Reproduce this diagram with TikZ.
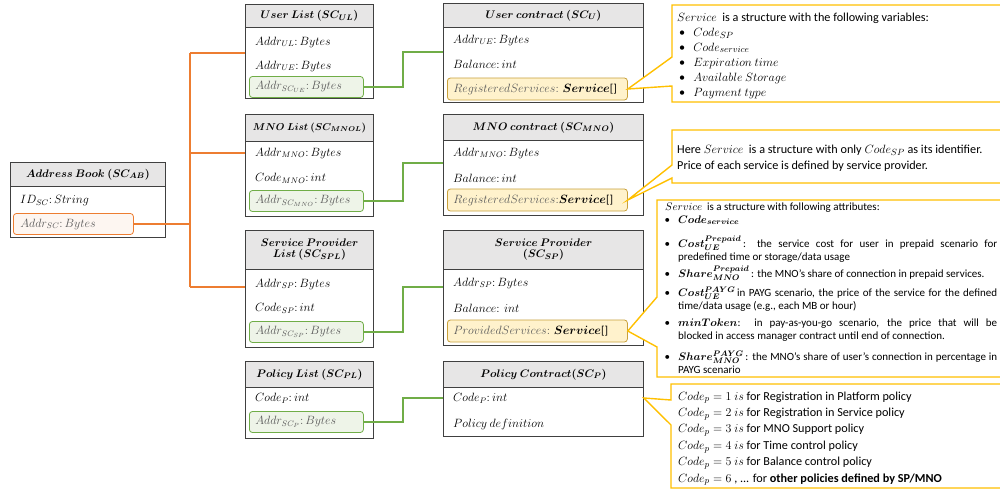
\documentclass[tikz,border=0pt]{standalone}
\usepackage[no-math]{fontspec}
\setmainfont{Carlito}
\definecolor{boxline}{HTML}{404040}
\definecolor{hdrgray}{HTML}{E7E6E6}
\definecolor{orng}{HTML}{ED7D31}
\definecolor{grn}{HTML}{70AD47}
\definecolor{gfill}{HTML}{EEF4E8}
\definecolor{ofill}{HTML}{FDF6F1}
\definecolor{yfill}{HTML}{FFF2CC}
\definecolor{ydraw}{HTML}{C9A13B}
\definecolor{calloutc}{HTML}{FFC000}
\definecolor{fgray}{HTML}{595959}
\newcommand{\ff}{\fontsize{11.5}{14}\selectfont}
\newcommand{\hf}{\fontsize{11}{13}\selectfont}
\newcommand{\bul}{\hspace*{2pt}\textbullet\hspace{8pt}}
\newcommand{\hbul}{\leavevmode\llap{\textbullet\hspace{8pt}}}
\hyphenpenalty=10000
\exhyphenpenalty=10000
\begin{document}
\begin{tikzpicture}[x=1pt,y=-1pt,
  body/.style={draw=boxline, line width=0.9pt, anchor=north west, inner sep=0pt, fill=white},
  hdr/.style={draw=boxline, fill=hdrgray, line width=0.9pt, anchor=north west, inner sep=0pt, align=center, font=\hf\boldmath},
  field/.style={anchor=west, inner sep=0pt, font=\ff},
  grect/.style={draw=grn, fill=gfill, rounded corners=3pt, line width=0.8pt, anchor=west, inner xsep=6pt, inner ysep=0pt, minimum height=21pt, text width=102pt, align=left, font=\ff, text=fgray},
  orect/.style={draw=orng, fill=ofill, rounded corners=3pt, line width=0.8pt, anchor=west, inner xsep=7pt, inner ysep=0pt, minimum height=21pt, text width=106pt, align=left, font=\ff, text=fgray},
  yrect/.style={draw=ydraw, fill=yfill, rounded corners=3pt, line width=0.8pt, anchor=west, inner xsep=6pt, inner ysep=0pt, minimum height=22pt, text width=168pt, align=left, font=\ff, text=fgray},
  oline/.style={draw=orng, line width=1.2pt},
  gline/.style={draw=grn, line width=1.2pt},
  co/.style={draw=calloutc, line width=1.4pt, fill=white, line join=miter},
  ctext/.style={anchor=base west, inner sep=0pt, align=left},
  cpar/.style={anchor=base west, inner sep=0pt, font=\fontsize{11}{13.5}\selectfont, text width=319pt, align=justify},
]
\useasboundingbox (0,0) rectangle (1000,490);

% ---------- Address Book ----------
\node[body, minimum width=155pt, minimum height=75pt] (abb) at (10,162) {};
\node[hdr, minimum width=155pt, minimum height=24pt] (abh) at (10,162) {$Address\ Book\ (SC_{AB})$};
\node[field] (ab1) at (20,201) {$ID_{SC}\colon String$};
\node[orect] (absc) at (13,224) {$Addr_{SC}\colon Bytes$};

% ---------- User List ----------
\node[body, minimum width=128pt, minimum height=94pt] (ulb) at (245,4) {};
\node[hdr, minimum width=128pt, minimum height=23pt] (ulh) at (245,4) {$User\ List\ (SC_{UL})$};
\node[field] (ul1) at (255,42) {$Addr_{UL}\colon Bytes$};
\node[field] (ul2) at (255,66) {$Addr_{UE}\colon Bytes$};
\node[grect] (ulg) at (249,87) {$Addr_{SC_{UE}}\colon Bytes$};

% ---------- MNO List ----------
\node[body, minimum width=128pt, minimum height=102pt] (mlb) at (245,114) {};
\node[hdr, minimum width=128pt, minimum height=27pt, font=\fontsize{10.4}{13}\selectfont\boldmath] (mlh) at (245,114) {$MNO\ List\ (SC_{MNOL})$};
\node[field] (ml1) at (255,153) {$Addr_{MNO}\colon Bytes$};
\node[field] (ml2) at (255,178) {$Code_{MNO}\colon int$};
\node[grect] (mlg) at (249,201) {$Addr_{SC_{MNO}}\colon Bytes$};

% ---------- Service Provider List ----------
\node[body, minimum width=128pt, minimum height=117pt] (slb) at (245,230) {};
\node[hdr, minimum width=128pt, minimum height=39pt] (slh) at (245,230) {$Service\ Provider$\\[-2pt]$List\ (SC_{SPL})$};
\node[field] (sl1) at (255,284) {$Addr_{SP}\colon Bytes$};
\node[field] (sl2) at (255,308) {$Code_{SP}\colon int$};
\node[grect] (slg) at (249,332) {$Addr_{SC_{SP}}\colon Bytes$};

% ---------- Policy List ----------
\node[body, minimum width=128pt, minimum height=77pt] (plb) at (245,361) {};
\node[hdr, minimum width=128pt, minimum height=26pt] (plh) at (245,361) {$Policy\ List\ (SC_{PL})$};
\node[field] (pl1) at (255,398) {$Code_{P}\colon int$};
\node[grect] (plg) at (249,422) {$Addr_{SC_{P}}\colon Bytes$};

% ---------- User contract ----------
\node[body, minimum width=200pt, minimum height=99pt] (ucb) at (443,3) {};
\node[hdr, minimum width=200pt, minimum height=24pt] (uch) at (443,3) {$User\ contract\ (SC_{U})$};
\node[field] (uc1) at (453,40) {$Addr_{UE}\colon Bytes$};
\node[field] (uc2) at (453,64) {$Balance\colon int$};
\node[yrect] (ucr) at (447,89) {$RegisteredServices\colon$ \textcolor{black}{\boldmath$Service$}\textcolor{black}{[]}};

% ---------- MNO contract ----------
\node[body, minimum width=200pt, minimum height=101pt] (mcb) at (443,114) {};
\node[hdr, minimum width=200pt, minimum height=26pt] (mch) at (443,114) {$MNO\ contract\ (SC_{MNO})$};
\node[field] (mc1) at (453,153) {$Addr_{MNO}\colon Bytes$};
\node[field] (mc2) at (453,178) {$Balance\colon int$};
\node[yrect] (mcr) at (447,200) {$RegisteredServices\colon$\textcolor{black}{\boldmath$Service$}\textcolor{black}{[]}};

% ---------- Service Provider ----------
\node[body, minimum width=200pt, minimum height=115pt] (spb) at (443,230) {};
\node[hdr, minimum width=200pt, minimum height=39pt] (sph) at (443,230) {$Service\ Provider$\\[-2pt]$(SC_{SP})$};
\node[field] (sp1) at (453,283) {$Addr_{SP}\colon Bytes$};
\node[field] (sp2) at (453,308) {$Balance\colon\ int$};
\node[yrect] (spr) at (447,331) {$ProvidedServices\colon$ \textcolor{black}{\boldmath$Service$}\textcolor{black}{[]}};

% ---------- Policy Contract ----------
\node[body, minimum width=200pt, minimum height=75pt] (pcb) at (443,361) {};
\node[hdr, minimum width=200pt, minimum height=26pt] (pch) at (443,361) {$Policy\ Contract (SC_{P})$};
\node[field] (pc1) at (453,398) {$Code_{P}\colon int$};
\node[field] (pc2) at (453,424) {$Policy\ definition$};

% ---------- orange connectors ----------
\coordinate (busT) at (190,53);
\coordinate (busM) at (190,153);
\coordinate (busB) at (190,287);
\draw[oline] (absc.east) -- (absc.east -| busT);
\draw[oline] (busT) -- (busB);
\draw[oline] (busT) -- (busT -| ulb.west);
\draw[oline] (busM) -- (busM -| mlb.west);
\draw[oline] (busB) -- (busB -| slb.west);

% ---------- green connectors ----------
\coordinate (g1) at (403,52);
\coordinate (g2) at (403,163);
\coordinate (g3) at (403,287);
\coordinate (g4) at (403,398);
\draw[gline] (ulg.east) -- (ulg.east -| g1) -- (g1) -- (g1 -| ucb.west);
\draw[gline] (mlg.east) -- (mlg.east -| g2) -- (g2) -- (g2 -| mcb.west);
\draw[gline] (slg.east) -- (slg.east -| g3) -- (g3) -- (g3 -| spb.west);
\draw[gline] (plg.east) -- (plg.east -| g4) -- (g4) -- (g4 -| pcb.west);

% ---------- callouts ----------
\draw[co] (672,57) -- (672,5) -- (1005,5) -- (1005,102) -- (672,102) -- (672,86) -- (ucr.east) -- cycle;
\draw[co] (672,165) -- (672,130) -- (1005,130) -- (1005,183) -- (672,183) -- (672,178) -- (mcr.east) -- cycle;
\draw[co] (657,297) -- (657,200) -- (1005,200) -- (1005,377) -- (657,377) -- (657,347) -- (spr.east) -- cycle;
\draw[co] (671,400) -- (671,384) -- (1005,384) -- (1005,488) -- (671,488) -- (671,425) -- (pcb.east |- pc1) -- cycle;

% callout 1 (base anchor = last line)
\node[ctext, font=\fontsize{12.2}{15}\selectfont] (c1) at (677,96) {$Service$\ \ is a structure with the following variables:\\
\bul$Code_{SP}$\\
\bul$Code_{service}$\\
\bul$Expiration\ time$\\
\bul$Available\ Storage$\\
\bul$Payment\ type$};

% callout 2
\node[ctext, font=\fontsize{12.2}{16}\selectfont] (c2) at (677,169) {Here $Service$\ \ is a structure with only $Code_{SP}$\ as its identifier.\\
Price of each service is defined by service provider.};

% callout 3 (text width nodes: base anchor = first line)
\node[ctext, font=\fontsize{11}{13.5}\selectfont] (c3a) at (665,210) {$Service$\ \ is a structure with following attributes:};
\node[cpar] (c3b) at (678,223) {\hbul{\boldmath$Code_{service}$}};
\node[cpar] (c3c) at (678,247) {\hbul{\boldmath$Cost_{UE}^{Prepaid}$}\,: the service cost for user in prepaid scenario for\linebreak predefined time or storage/data usage};
\node[cpar] (c3d) at (678,277) {\hbul{\boldmath$Share_{MNO}^{Prepaid}$}\,: the MNO’s share of connection in prepaid services.};
\node[cpar] (c3e) at (678,296) {\hbul{\boldmath$Cost_{UE}^{PAYG}$}\,in PAYG scenario, the price of the service for the defined\linebreak time/data usage (e.g., each MB or hour)};
\node[cpar] (c3f) at (678,326) {\hbul{\boldmath$minToken$}:\ \ in pay-as-you-go scenario, the price that will be\linebreak blocked in access manager contract until end of connection.};
\node[cpar] (c3g) at (678,360) {\hbul{\boldmath$Share_{MNO}^{PAYG}$}\,: the MNO’s share of user’s connection in percentage in\linebreak PAYG scenario};

% callout 4
\node[ctext, font=\fontsize{12.2}{16.4}\selectfont] (c4) at (678,482) {$Code_{p} = 1\ is$ for Registration in Platform policy\\
$Code_{p} = 2\ is$ for Registration in Service policy\\
$Code_{p} = 3\ is$ for MNO Support policy\\
$Code_{p} = 4\ is$ for Time control policy\\
$Code_{p} = 5\ is$ for Balance control policy\\
$Code_{p} = 6$ , ... for \textbf{other policies defined by SP/MNO}};
\end{tikzpicture}
\end{document}
